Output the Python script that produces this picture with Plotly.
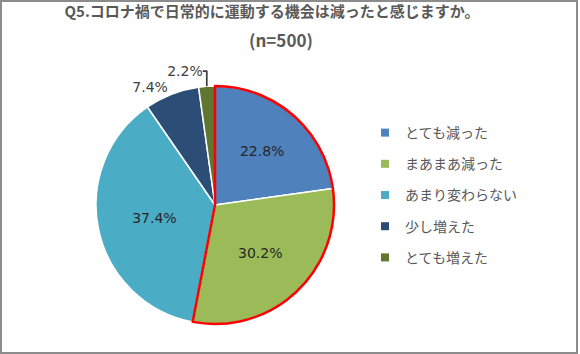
import plotly.graph_objects as go

title_line1 = "Q5.コロナ禍で日常的に運動する機会は減ったと感じますか。"
title_line2 = "(n=500)"
categories = ["とても減った", "まあまあ減った", "あまり変わらない", "少し増えた", "とても増えた"]
values = [22.8, 30.2, 37.4, 7.4, 2.2]
colors = ["#4F81BD", "#9BBB59", "#4BACC6", "#2C4D75", "#5F7530"]
text_positions = ["inside", "inside", "inside", "outside", "outside"]

W, H = 580, 354
cx, cy, r = 215, 205, 119
domain = dict(x=[(cx - r) / W, (cx + r) / W], y=[1 - (cy + r) / H, 1 - (cy - r) / H])
FONT = "Noto Sans CJK JP, Noto Sans, sans-serif"
NUMFONT = "DejaVu Sans, Verdana, sans-serif"

fig = go.Figure()
fig.add_trace(go.Pie(
    labels=categories, values=values, sort=False, direction="clockwise", rotation=0,
    marker=dict(colors=colors, line=dict(color="white", width=1.5)),
    textinfo="percent", texttemplate="%{value:.1f}%", textposition=text_positions,
    insidetextfont=dict(size=14, color="#262626", family=NUMFONT),
    outsidetextfont=dict(size=14, color="#404040", family=NUMFONT),
    domain=domain, showlegend=False, hoverinfo="label+value",
))
# red outline around the "decreased" group
decreased = sum(values[:2])
rest = sum(values[2:])
fig.add_trace(go.Pie(
    labels=["減った", "その他"], values=[decreased, rest], sort=False, direction="clockwise",
    rotation=0,
    marker=dict(colors=["rgba(0,0,0,0)", "rgba(0,0,0,0)"],
                line=dict(color=["#FF0000", "rgba(0,0,0,0)"], width=[2.5, 0])),
    textinfo="none", hoverinfo="skip", domain=domain, showlegend=False,
))
# legend entries
for i, (cat, col) in enumerate(zip(categories, colors)):
    fig.add_trace(go.Scatter(
        x=[None], y=[None], mode="markers", name=cat, legendgroup=f"g{i}",
        marker=dict(symbol="square", size=8, color=col),
    ))

fig.update_layout(
    width=W, height=H,
    margin=dict(l=0, r=0, t=0, b=0),
    paper_bgcolor="white", plot_bgcolor="white",
    xaxis=dict(visible=False), yaxis=dict(visible=False),
    font=dict(family=FONT, color="#595959"),
    title=dict(
        text=f"<b>{title_line1}</b>",
        x=272 / W, xanchor="center", y=1 - 6 / H, yanchor="top",
        font=dict(size=15, color="#595959", family=FONT),
    ),
    annotations=[dict(
        text=f"<b>{title_line2}</b>", xref="paper", yref="paper",
        x=281 / W, y=1 - 40 / H, xanchor="center", yanchor="middle", showarrow=False,
        font=dict(size=17, color="#595959", family=FONT),
    )],
    legend=dict(
        x=365 / W, xanchor="left", y=1 - 117 / H, yanchor="top",
        font=dict(size=14, color="#595959", family=FONT),
        tracegroupgap=10, itemwidth=30, bgcolor="rgba(0,0,0,0)",
    ),
    shapes=[dict(type="rect", xref="paper", yref="paper", x0=1 / W, x1=577 / W,
                 y0=1 - 353 / H, y1=1 - 1 / H, line=dict(color="#8C8C8C", width=2))],
)
fig.write_html("out.html")
